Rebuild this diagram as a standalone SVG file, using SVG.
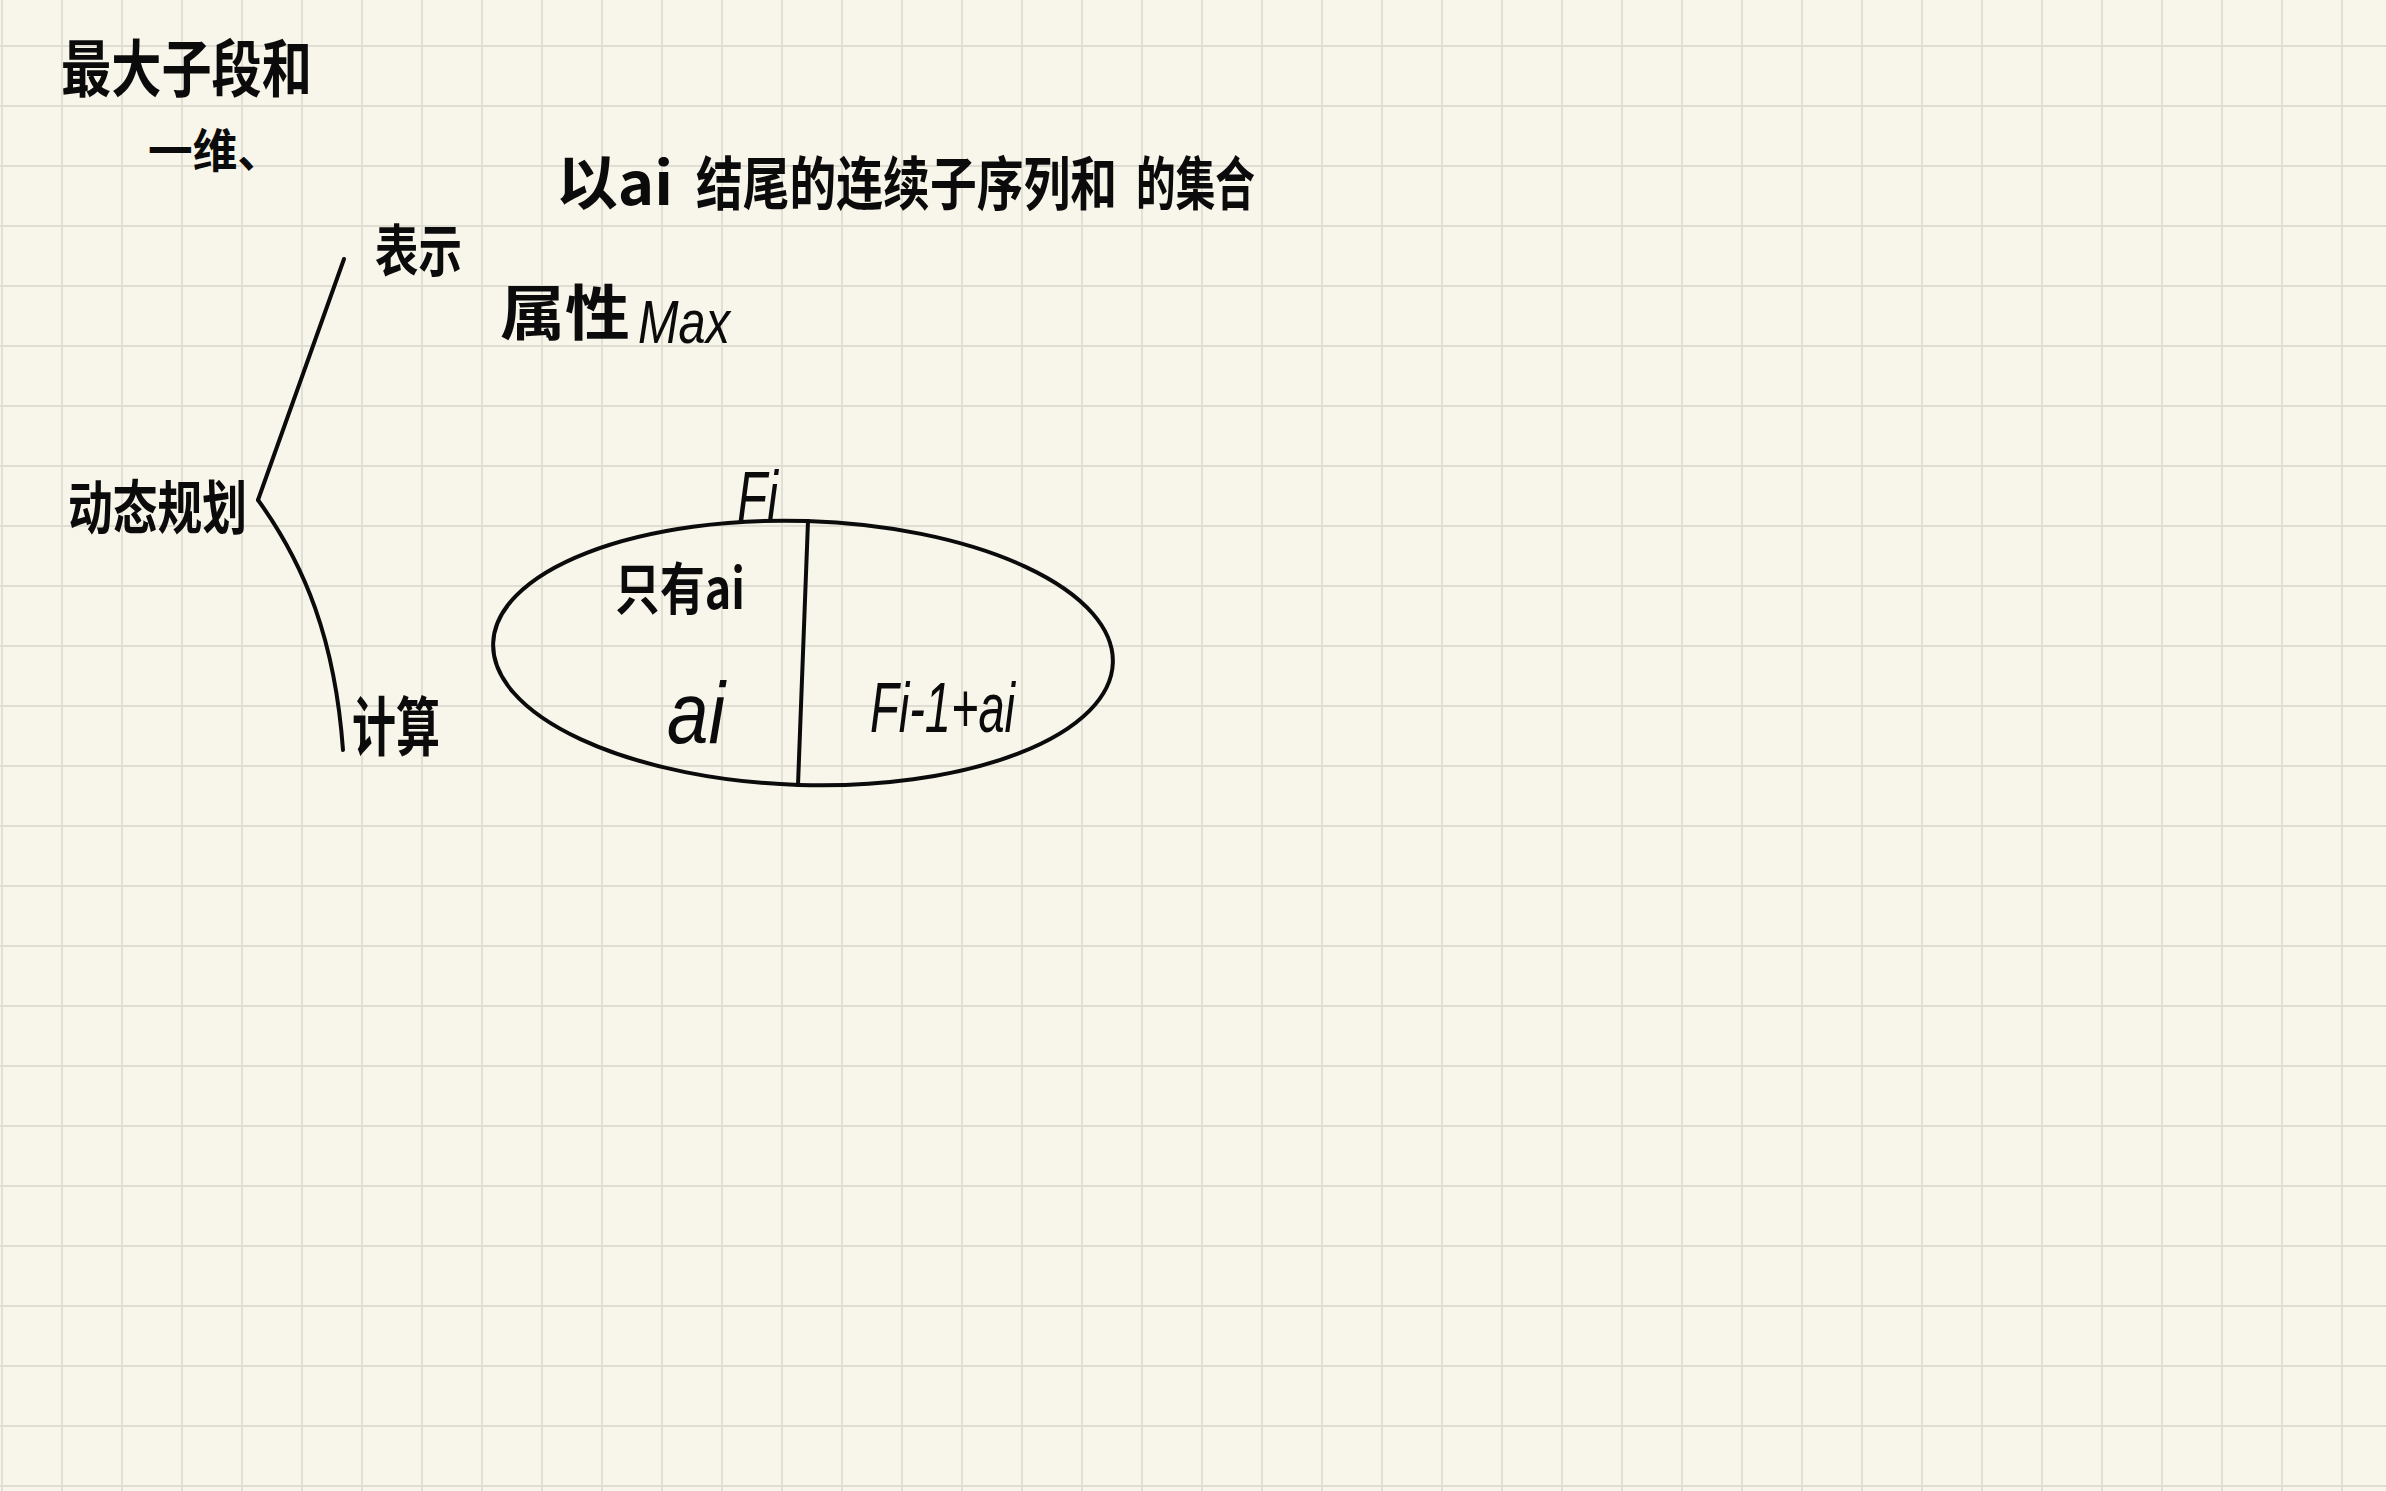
<svg xmlns="http://www.w3.org/2000/svg" width="2386" height="1491" viewBox="0 0 2386 1491">
  <defs>
    <pattern id="grid" x="-28" y="16" width="60" height="60" patternUnits="userSpaceOnUse">
      <path d="M30,0 V60 M0,30 H60" fill="none" stroke="#e0ddd2" stroke-width="1.8"/>
    </pattern>
    <style>
      .hw { font-family: "Noto Sans CJK SC", "Noto Sans", "Liberation Sans", sans-serif; font-weight: 700; fill: #0b0b0b; }
      .lat { font-family: "Liberation Sans", "Noto Sans", sans-serif; font-weight: 400; fill: #0b0b0b; font-style: italic; }
      .ink { fill: none; stroke: #0b0b0b; stroke-width: 4; stroke-linecap: round; stroke-linejoin: round; }
    </style>
  </defs>
  <rect width="2386" height="1491" fill="#f8f6ea"/>
  <rect width="2386" height="1491" fill="url(#grid)"/>

  <g id="title">
    <text class="hw" x="61" y="92" font-size="62" textLength="251" lengthAdjust="spacingAndGlyphs">最大子段和</text>
    <text class="hw" x="148" y="167" font-size="46" textLength="134" lengthAdjust="spacingAndGlyphs">一维、</text>
  </g>

  <g id="node-dp">
    <text class="hw" x="68" y="529" font-size="58" textLength="179" lengthAdjust="spacingAndGlyphs">动态规划</text>
  </g>

  <g id="node-represent">
    <text class="hw" x="375" y="271" font-size="56" textLength="87" lengthAdjust="spacingAndGlyphs">表示</text>
  </g>

  <g id="node-set" transform="translate(0,205) scale(1,1.27)">
    <text class="hw" x="556" y="0" font-size="47" textLength="117" lengthAdjust="spacingAndGlyphs">以ai</text>
    <text class="hw" x="696" y="0" font-size="46" textLength="421" lengthAdjust="spacingAndGlyphs">结尾的连续子序列和</text>
    <text class="hw" x="1136" y="0" font-size="46" textLength="119" lengthAdjust="spacingAndGlyphs">的集合</text>
  </g>

  <g id="node-attr">
    <text class="hw" x="500" y="335" font-size="60" textLength="130" lengthAdjust="spacingAndGlyphs">属性</text>
    <text class="lat" x="638" y="343" font-size="62" textLength="92" lengthAdjust="spacingAndGlyphs">Max</text>
  </g>

  <g id="node-compute">
    <text class="hw" x="352" y="750" font-size="64" textLength="88" lengthAdjust="spacingAndGlyphs">计算</text>
  </g>

  <g id="node-ellipse">
    <ellipse class="ink" cx="803" cy="653" rx="310" ry="132" transform="rotate(1.8 803 653)"/>
    <path class="ink" d="M808,521 L798,785"/>
    <text class="lat" x="737" y="522" font-size="72" textLength="41" lengthAdjust="spacingAndGlyphs">Fi</text>
    <text class="hw" x="615" y="609" font-size="56" textLength="130" lengthAdjust="spacingAndGlyphs">只有ai</text>
    <text class="lat" x="667" y="743" font-size="88" textLength="58" lengthAdjust="spacingAndGlyphs">ai</text>
    <text class="lat" x="870" y="732" font-size="70" textLength="145" lengthAdjust="spacingAndGlyphs">Fi-1+ai</text>
  </g>

  <g id="connectors">
    <path class="ink" stroke-width="3.5" d="M344,259 L258,500"/>
    <path class="ink" stroke-width="3.5" d="M258,500 C305,565 335,640 343,750"/>
  </g>
</svg>
